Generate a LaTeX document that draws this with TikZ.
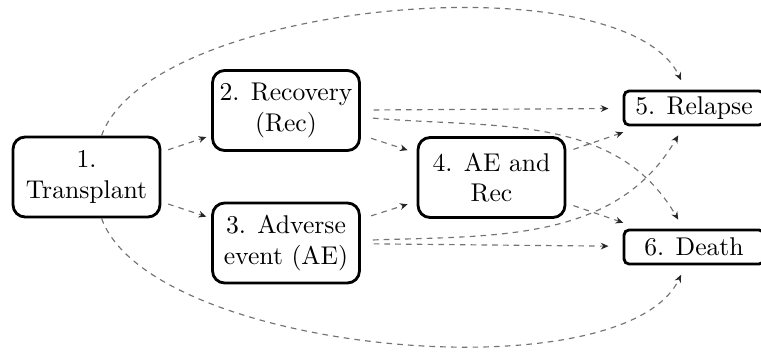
\documentclass[tikz,border=0pt]{standalone}
\usetikzlibrary{arrows.meta}
\begin{document}
\begin{tikzpicture}[x=0.39pt,y=0.39pt,
  state/.style={draw=black, line width=1.1pt, rounded corners=4.7pt, minimum width=57.3pt, minimum height=31.2pt, align=center, inner sep=0pt},
  absorb/.style={draw=black, line width=1.1pt, rounded corners=2pt, minimum width=54.6pt, minimum height=13.3pt, inner sep=0pt},
  trans/.style={draw=black!55, line width=0.45pt, dash pattern=on 2.2pt off 2pt, -{Stealth[length=3pt,width=2.6pt,black!85]}},
]
\useasboundingbox (0,0) rectangle (761,351);
\node[state] (n1) at (86.5,174) {1.\\Transplant};
\node[state] (n2) at (286,240.5) {2. Recovery\\(Rec)};
\node[state] (n3) at (286,108) {3. Adverse\\event (AE)};
\node[state] (n4) at (491.5,173.5) {4. AE and\\Rec};
\node[absorb] (n5) at (694,243) {5. Relapse};
\node[absorb] (n6) at (694,104) {6. Death};
% short transitions
\draw[trans, shorten <=2.8pt, shorten >=2pt] (n1) -- (n2);
\draw[trans, shorten <=2.8pt, shorten >=2pt] (n1) -- (n3);
\draw[trans, shorten <=4.2pt, shorten >=3.7pt] (n2) -- (n4);
\draw[trans, shorten <=4.2pt, shorten >=3.7pt] (n3) -- (n4);
\draw[trans, shorten <=5pt, shorten >=5.5pt] (n2) -- (n5);
\draw[trans, shorten <=5pt, shorten >=5.5pt] (n3) -- (n6);
\draw[trans, shorten <=2.9pt, shorten >=7pt] (n4) -- (n5);
\draw[trans, shorten <=2.9pt, shorten >=7pt] (n4) -- (n6);
% curved transitions
\draw[trans, shorten <=4.7pt, shorten >=4pt] (n2) to[out=-5,in=120] (n6);
\draw[trans, shorten <=4.7pt, shorten >=4pt] (n3) to[out=2,in=-120] (n5);
\draw[trans, shorten >=4pt] (n1) to[out=70,in=115,looseness=0.63] (n5);
\draw[trans, shorten >=4pt] (n1) to[out=-70,in=-115,looseness=0.63] (n6);
\end{tikzpicture}
\end{document}
